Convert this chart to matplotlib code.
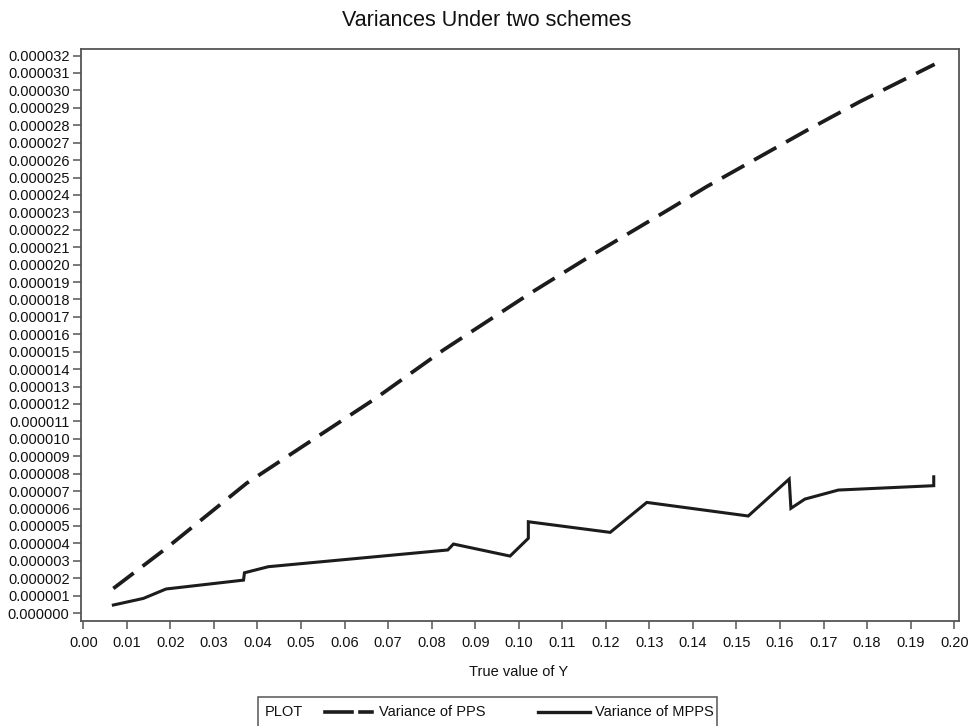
import matplotlib
matplotlib.use("Agg")
import matplotlib.pyplot as plt
from matplotlib.lines import Line2D
from matplotlib.patches import Rectangle
import numpy as np

plt.rcParams['font.family'] = ['Liberation Sans', 'DejaVu Sans']

# ---- data (variance values in units of 1e-6) ----
pps_x = [0.0069, 0.0190, 0.0375, 0.0670, 0.0827, 0.1026, 0.1156, 0.1347, 0.1431, 0.1661, 0.1783, 0.1955]
pps_y = [1.41, 3.71, 7.45, 12.30, 15.10, 18.35, 20.36, 23.20, 24.47, 27.70, 29.35, 31.50]

mpps_x = [0.0069, 0.0138, 0.0190, 0.0368, 0.0370, 0.0425, 0.0837, 0.0850, 0.0980, 0.1022, 0.1022,
          0.1210, 0.1294, 0.1527, 0.1621, 0.1625, 0.1657, 0.1734, 0.1953, 0.1953]
mpps_y = [0.46, 0.84, 1.38, 1.89, 2.31, 2.66, 3.62, 3.96, 3.27, 4.29, 5.24,
          4.63, 6.35, 5.57, 7.69, 6.01, 6.54, 7.06, 7.31, 7.82]

x_ticks = [i / 100 for i in range(0, 21)]
y_ticks = [i for i in range(0, 33)]

title = "Variances Under two schemes"
xlabel = "True value of Y"
legend_title = "PLOT"
labels = ["Variance of PPS", "Variance of MPPS"]

W, H = 976, 726
fig = plt.figure(figsize=(W / 100, H / 100), dpi=100)
ax = fig.add_axes([80.7 / W, 1 - 620.7 / H, (959 - 80.7) / W, (620.7 - 49.3) / H])

line_col = "#1c1c1c"
scale = 1e-6
ax.plot(pps_x, [v * scale for v in pps_y], color=line_col, lw=2.7,
        dashes=(6.8, 3.0), solid_capstyle='butt', dash_capstyle='butt')
ax.plot(mpps_x, [v * scale for v in mpps_y], color=line_col, lw=2.2,
        solid_joinstyle='miter')

ax.set_xlim(-0.0006, 0.2011)
ax.set_ylim(-0.44e-6, 32.36e-6)
ax.set_xticks(x_ticks)
ax.set_xticklabels([f"{t:.2f}" for t in x_ticks])
ax.set_yticks([t * scale for t in y_ticks])
ax.set_yticklabels([f"0.{t:06d}" for t in y_ticks])

for s in ax.spines.values():
    s.set_color("#555555")
    s.set_linewidth(1.3)
ax.tick_params(axis='both', direction='out', length=6, width=1.1, color="#555555",
               labelsize=10.5, labelcolor="#111111", pad=2)
ax.tick_params(axis='x', pad=5)

fig.text(487 / W, 1 - 20 / H, title, ha='center', va='center', fontsize=15.5, color="#111111")
fig.text(519 / W, 1 - 672 / H, xlabel, ha='center', va='center', fontsize=10.5, color="#111111")

# legend box
fig.add_artist(Rectangle((258 / W, 1 - 727 / H), (717 - 258) / W, 30 / H,
                         transform=fig.transFigure, fill=False, edgecolor="#555555", lw=1.1))
ly = 1 - 712 / H
fig.text(265 / W, ly, legend_title, ha='left', va='center', fontsize=10.5, color="#111111")
fig.add_artist(Line2D([325 / W, 352 / W], [ly, ly], transform=fig.transFigure, color=line_col, lw=2.6))
fig.add_artist(Line2D([360 / W, 372 / W], [ly, ly], transform=fig.transFigure, color=line_col, lw=2.6))
fig.text(379 / W, ly, labels[0], ha='left', va='center', fontsize=10.5, color="#111111")
fig.add_artist(Line2D([538 / W, 590 / W], [ly, ly], transform=fig.transFigure, color=line_col, lw=2.4))
fig.text(595 / W, ly, labels[1], ha='left', va='center', fontsize=10.5, color="#111111")

fig.savefig("out.png", dpi=100)
